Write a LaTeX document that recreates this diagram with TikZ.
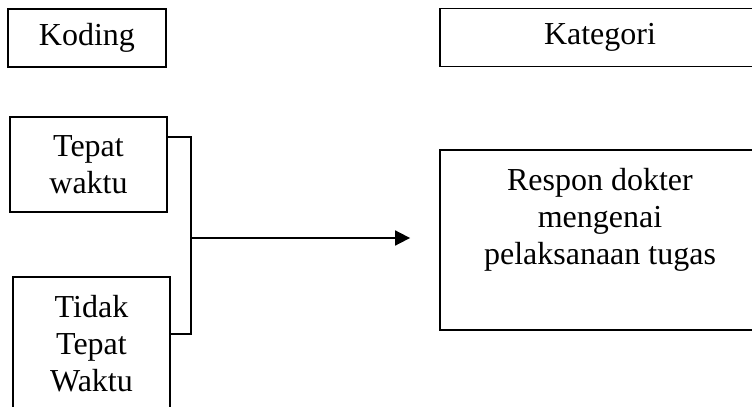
\documentclass[tikz,border=0pt]{standalone}
\usepackage{fontspec}
\setmainfont{Liberation Serif}
\usetikzlibrary{arrows.meta,positioning,calc}

\begin{document}
\begin{tikzpicture}[x=0.5pt, y=-0.5pt,
    box/.style={draw, rectangle, line width=0.9pt, align=center, inner sep=0pt, font=\fontsize{16}{18.5}\selectfont},
    link/.style={line width=0.9pt},
]
\useasboundingbox (0,0) rectangle (752,407);

% Headers
\node[box, minimum width=79pt, minimum height=29pt] (koding) at (87,38) {Koding};
\node[box, minimum width=160pt, minimum height=29pt] (kategori) at (600,37.5) {Kategori};

% Codes
\node[box, minimum width=78.5pt, minimum height=47.5pt] (tepat) at (88.5,164.5) {Tepat\\waktu};
\node[box, minimum width=78.5pt, minimum height=67pt] (tidak) at (91.5,344) {Tidak\\Tepat\\Waktu};

% Category
\node[box, minimum width=160pt, minimum height=90pt] (respon) at (600,240) {Respon dokter\\mengenai\\pelaksanaan tugas\\\strut};

% Bracket joining the codes
\coordinate (join) at (191,238);
\draw[link] ($(tepat.north east)!0.22!(tepat.south east)$) -| (join);
\draw[link] ($(tidak.north east)!0.425!(tidak.south east)$) -| (join);
\draw[link, -{Triangle[length=7.5pt,width=7.5pt]}, shorten >=14.5pt] (join) -- (join -| respon.west);

\end{tikzpicture}
\end{document}
